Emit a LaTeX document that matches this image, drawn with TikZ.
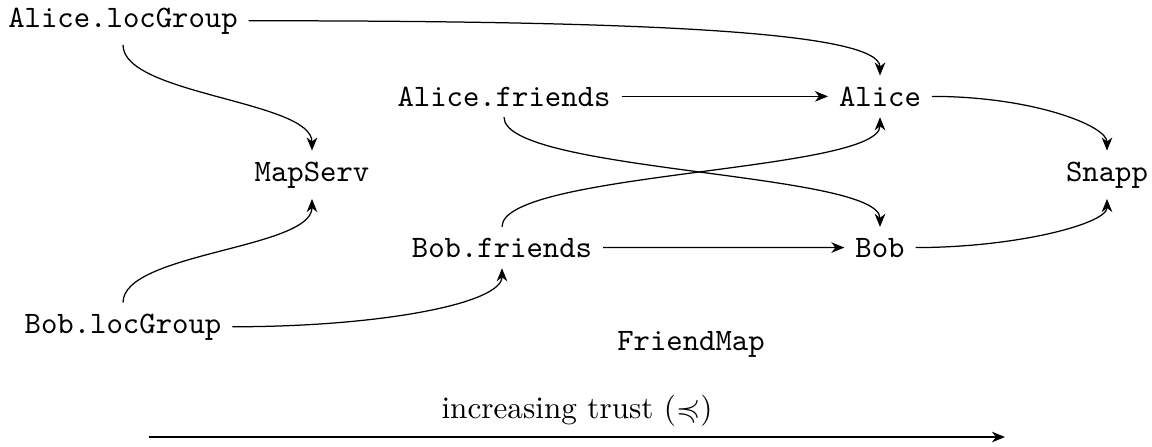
\documentclass[tikz,border=0pt]{standalone}
\usepackage{amssymb}
\usetikzlibrary{arrows.meta}

\begin{document}
\begin{tikzpicture}[
    x=0.3205pt, y=0.3205pt,
    lbl/.style={font=\ttfamily, anchor=base},
    flow/.style={-{Stealth[length=4.2pt, width=3.4pt, inset=1.3pt]}},
  ]
  \useasboundingbox (0,0) rectangle (1152,-446);

  % components
  \node[lbl] (alg) at (123,-27)  {Alice.locGroup};
  \node[lbl] (af)  at (504,-106) {Alice.friends};
  \node[lbl] (alice) at (880,-106) {Alice};
  \node[lbl] (ms)  at (312,-181) {MapServ};
  \node[lbl] (sn)  at (1107,-181) {Snapp};
  \node[lbl] (bf)  at (502,-257) {Bob.friends};
  \node[lbl] (bob) at (880,-257) {Bob};
  \node[lbl] (blg) at (123,-333) {Bob.locGroup};
  \node[lbl] (fm)  at (691,-350) {FriendMap};

  % information flows
  \draw[flow] (alg.east) .. controls +(380,0) and +(0,45) .. (alice.north);
  \draw[flow] (alg.south) .. controls +(0,-50) and +(0,50) .. (ms.north);
  \draw[flow] (af) -- (alice);
  \draw[flow] (af.south) .. controls +(0,-55) and +(0,55) .. (bob.north);
  \draw[flow] (alice.east) .. controls +(100,0) and +(0,25) .. (sn.north);
  \draw[flow] (bf.north) .. controls +(0,55) and +(0,-55) .. (alice.south);
  \draw[flow] (bf) -- (bob);
  \draw[flow] (bob.east) .. controls +(100,0) and +(0,-25) .. (sn.south);
  \draw[flow] (blg.north) .. controls +(0,50) and +(0,-50) .. (ms.south);
  \draw[flow] (blg.east) .. controls +(150,0) and +(0,-35) .. (bf.south);

  % trust axis
  \coordinate (ts) at (149,-437);
  \coordinate (te) at (1005,-437);
  \draw[flow] (ts) -- node[above] {increasing trust ($\preccurlyeq$)} (te);
\end{tikzpicture}
\end{document}
